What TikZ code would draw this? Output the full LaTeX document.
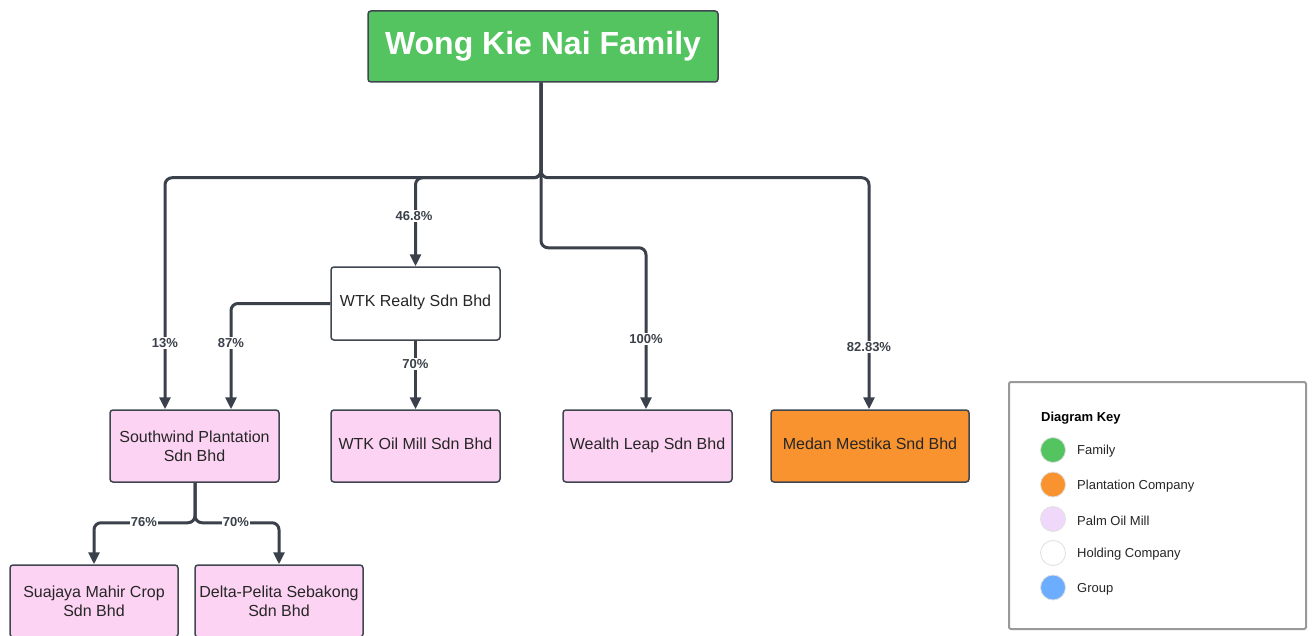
\documentclass[tikz,border=0pt]{standalone}
\usepackage{fontspec}
\setmainfont{Liberation Sans}
\usetikzlibrary{arrows.meta,calc}
\definecolor{famgreen}{HTML}{53C45F}
\definecolor{millpink}{HTML}{FDD3F4}
\definecolor{plantorange}{HTML}{F9932F}
\definecolor{grpblue}{HTML}{6DADFF}
\definecolor{keypink}{HTML}{F0D8FB}
\definecolor{edgecol}{HTML}{3A414A}
\definecolor{boxline}{HTML}{3F4650}
\tikzset{
  box/.style={draw=boxline, line width=1.5pt, rounded corners=3pt, inner sep=0pt,
    minimum width=169pt, minimum height=72pt, align=center,
    font=\fontsize{16}{19}\selectfont, text=black!85},
  onebox/.style={box, text depth=5pt},
  conn/.style={draw=edgecol, line width=3pt, rounded corners=7pt,
    -{Triangle[width=11pt,length=12pt]}},
  lbl/.style={fill=white, inner sep=1.5pt, text=edgecol,
    font=\bfseries\fontsize{13}{15}\selectfont},
  keydot/.style={circle, minimum size=25pt, inner sep=0pt, draw=black!12, line width=0.8pt},
  keytxt/.style={anchor=west, inner sep=0pt, font=\fontsize{13}{15}\selectfont, text=black!85}
}
\begin{document}
\begin{tikzpicture}[x=1pt,y=-1pt]
\useasboundingbox (0,0) rectangle (1313,636);
\fill[white] (0,0) rectangle (1313,636);

% nodes
\node[box, fill=famgreen, minimum width=350pt, minimum height=71pt, text=white,
  font=\bfseries\fontsize{32}{36}\selectfont] (fam) at (543,46.5) {Wong Kie Nai Family};
\node[onebox, fill=white, minimum height=73pt] (rl) at (415.5,303.5) {WTK Realty Sdn Bhd};
\node[box, fill=millpink] (sw) at (194.5,446) {Southwind Plantation\\Sdn Bhd};
\node[onebox, fill=millpink] (om) at (415.5,446) {WTK Oil Mill Sdn Bhd};
\node[onebox, fill=millpink] (wl) at (647.5,446) {Wealth Leap Sdn Bhd};
\node[onebox, fill=plantorange, minimum width=198pt] (md) at (870,446) {Medan Mestika Snd Bhd};
\node[box, fill=millpink, minimum width=168pt] (sj) at (94,601) {Suajaya Mahir Crop\\Sdn Bhd};
\node[box, fill=millpink, minimum width=168pt] (dp) at (279,601) {Delta-Pelita Sebakong\\Sdn Bhd};

% connectors
\coordinate (trunk) at ([xshift=-2pt]fam.south);
\draw[conn] (trunk) -- ++(0,95) -| ([xshift=-29.5pt]sw.north);
\draw[conn] (trunk) -- ++(0,95) -| (rl.north);
\draw[conn] (trunk) -- ++(0,95) -| ([xshift=-1pt]md.north);
\draw[conn] (trunk) -- ++(0,165) -| ([xshift=-1.5pt]wl.north);
\draw[conn] (rl.west) -| ([xshift=36.5pt]sw.north);
\draw[conn] (rl.south) -- (om.north);
\draw[conn] ([xshift=0.5pt]sw.south) -- ++(0,40) -| (sj.north);
\draw[conn] ([xshift=0.5pt]sw.south) -- ++(0,40) -| (dp.north);

% labels
\node[lbl] (l1) at (414,216) {46.8\%};
\node[lbl] (l2) at (165,343) {13\%};
\node[lbl] (l3) at (231,343) {87\%};
\node[lbl] (l4) at (415.5,364) {70\%};
\node[lbl] (l5) at (646,339) {100\%};
\node[lbl] (l6) at (869,347) {82.83\%};
\node[lbl, inner sep=1pt] (l7) at (144,522) {76\%};
\node[lbl, inner sep=1pt] (l8) at (236,522) {70\%};

% legend
\node[draw=black!40, line width=2pt, rounded corners=2pt, minimum width=297pt,
  minimum height=247pt, inner sep=0pt] (key) at (1157.5,505.5) {};
\node[anchor=west, inner sep=0pt, font=\bfseries\fontsize{13}{15}\selectfont] (kt) at (1041,418) {Diagram Key};
\node[keydot, fill=famgreen] (k1) at (1053,450) {};
\node[keydot, fill=plantorange] (k2) at (1053,484.5) {};
\node[keydot, fill=keypink] (k3) at (1053,519) {};
\node[keydot, fill=white] (k4) at (1053,553) {};
\node[keydot, fill=grpblue] (k5) at (1053,587.5) {};
\node[keytxt] (t1) at (1077,451.5) {Family};
\node[keytxt] (t2) at (1077,486) {Plantation Company};
\node[keytxt] (t3) at (1077,520.5) {Palm Oil Mill};
\node[keytxt] (t4) at (1077,554.5) {Holding Company};
\node[keytxt] (t5) at (1077,589) {Group};
\end{tikzpicture}
\end{document}
